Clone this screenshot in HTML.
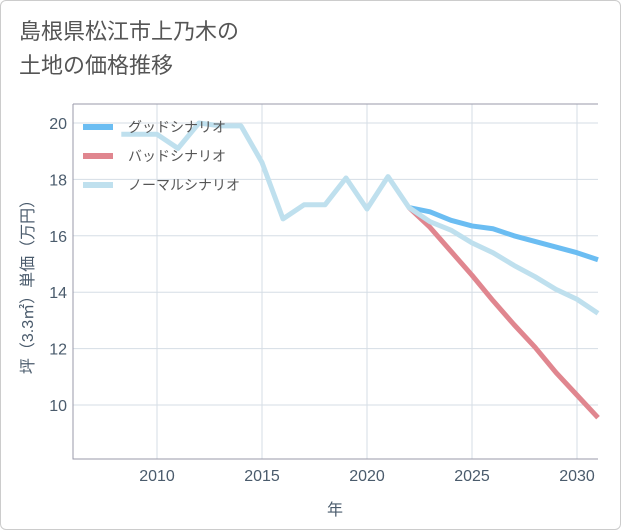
<!DOCTYPE html>
<html><head><meta charset="utf-8"><style>
body{margin:0;background:#fff;}
#card{position:absolute;left:0;top:0;width:619px;height:528px;border:1px solid #ccc;border-radius:6px;background:#fff;overflow:hidden;}
#title{position:absolute;left:18px;top:14px;font:22px/34px "Liberation Sans","Noto Sans CJK JP",sans-serif;color:#555;}
text{font-family:"Liberation Sans","Noto Sans CJK JP",sans-serif;}
</style></head><body>
<div id="card">
<div id="title">島根県松江市上乃木の<br>土地の価格推移</div>
<svg id="chart" width="621" height="530" style="position:absolute;left:0;top:0"></svg>
</div>
<script>
const xTicks=[2010,2015,2020,2025,2030];
const yTicks=[10,12,14,16,18,20];
const normalYears=[2008.3,2009,2010,2011,2012,2013,2014,2015,2016,2017,2018,2019,2020,2021,2022,2023,2024,2025,2026,2027,2028,2029,2030,2031];
const normalValues=[19.6,19.6,19.6,19.1,20.0,19.9,19.9,18.6,16.6,17.1,17.1,18.05,16.95,18.1,17.0,16.5,16.2,15.75,15.4,14.95,14.55,14.1,13.75,13.25];
const goodYears=[2022,2023,2024,2025,2026,2027,2028,2029,2030,2031];
const goodValues=[17.0,16.85,16.55,16.35,16.25,16.0,15.8,15.6,15.4,15.15];
const badYears=[2022,2023,2024,2025,2026,2027,2028,2029,2030,2031];
const badValues=[17.0,16.3,15.45,14.6,13.7,12.85,12.05,11.15,10.35,9.55];
const legendLabels=["グッドシナリオ","バッドシナリオ","ノーマルシナリオ"];

const L=72,R=597,T=103,B=458;
const x=v=>L+(v-2006)*21;
const y=v=>404-(v-10)*28.2;
const svg=document.getElementById('chart');
const NS='http://www.w3.org/2000/svg';
const txt='#4a5b6c';
function mk(tag,attrs){const e=document.createElementNS(NS,tag);for(const k in attrs)e.setAttribute(k,attrs[k]);svg.appendChild(e);return e;}

for(const t of xTicks){
  const g=mk('line',{x1:x(t),x2:x(t),y1:T,y2:B,stroke:'#d5dde5','stroke-width':1});
  
  
  const lb=mk('text',{x:x(t),y:480,'text-anchor':'middle','font-size':16,fill:txt});
  lb.textContent=t;
  
  
}
for(const t of yTicks){
  const g=mk('line',{x1:L,x2:R,y1:y(t),y2:y(t),stroke:'#d5dde5','stroke-width':1});
  
  
  const lb=mk('text',{x:L-6,y:y(t)+6,'text-anchor':'end','font-size':16,fill:txt});
  lb.textContent=t;
  
  
}
const ax=mk('path',{d:`M${L},${T}V${B}H${R}M${L},${T}H${R}`,stroke:'#99a',fill:'none','stroke-width':1});



function series(xs,vs,color,name){
  const p=mk('polyline',{points:xs.map((a,i)=>x(a)+','+y(vs[i])).join(' '),fill:'none',stroke:color,'stroke-width':5,'stroke-linejoin':'round'});
  
  
}
series(badYears,badValues,'#e0868f','bad-scenario-line');
series(goodYears,goodValues,'#6bbdf2','good-scenario-line');
series(normalYears,normalValues,'#bfe0ee','normal-scenario-line');

const colors=['#6bbdf2','#e0868f','#bfe0ee'];
legendLabels.forEach((s,i)=>{
  const yy=126+i*29;
  const l=mk('line',{x1:82,x2:112,y1:yy,y2:yy,stroke:colors[i],'stroke-width':6});
  
  
  const t=mk('text',{x:127,y:yy+5,'font-size':14,fill:'#555'});
  t.textContent=s;
  
  
});

const xt=mk('text',{x:334,y:514,'text-anchor':'middle','font-size':16,fill:txt});
xt.textContent='年';


const yt=mk('text',{x:0,y:0,'text-anchor':'middle','font-size':16,fill:txt,transform:'translate(32,282) rotate(-90)'});
yt.textContent='坪（3.3㎡）単価（万円）';


</script>
</body></html>
